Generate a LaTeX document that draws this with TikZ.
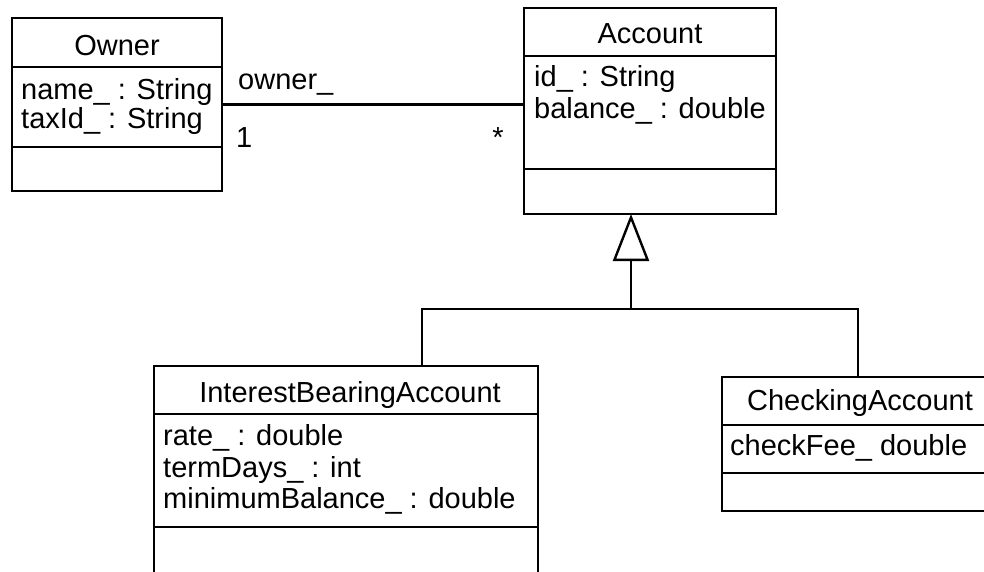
\documentclass[tikz,border=0pt]{standalone}
\usepackage{fontspec}
\setmainfont{Liberation Sans}
\usetikzlibrary{arrows.meta}
\begin{document}
\begin{tikzpicture}[x=1pt,y=-1pt,line width=2.4pt,
  classbox/.style={draw,rectangle,inner sep=0pt,outer sep=0pt,anchor=north west},
  attr/.style={inner sep=0pt,anchor=base west,font=\fontsize{29}{31}\selectfont},
  title/.style={inner sep=0pt,anchor=base,font=\fontsize{29}{31}\selectfont},
  gen/.style={-{Triangle[open,length=47pt,width=36pt]}}]
\clip (0,0) rectangle (984,571);
% class boxes
\node[classbox,minimum width=210pt,minimum height=173pt] (owner) at (12,18) {};
\node[classbox,minimum width=252pt,minimum height=206pt] (account) at (524,8) {};
\node[classbox,minimum width=384pt,minimum height=240pt] (interest) at (154,366) {};
\node[classbox,minimum width=272pt,minimum height=134pt] (checking) at (722,377) {};
% compartments
\draw (owner.west |- 0,67) -- (owner.east |- 0,67);
\draw (owner.west |- 0,147) -- (owner.east |- 0,147);
\draw (account.west |- 0,56) -- (account.east |- 0,56);
\draw (account.west |- 0,169) -- (account.east |- 0,169);
\draw (interest.west |- 0,414) -- (interest.east |- 0,414);
\draw (interest.west |- 0,527) -- (interest.east |- 0,527);
\draw (checking.west |- 0,425) -- (checking.east |- 0,425);
\draw (checking.west |- 0,473) -- (checking.east |- 0,473);
% titles
\node[title] (ownerT) at (117,55) {Owner};
\node[title] (accountT) at (650,43) {Account};
\node[title] (interestT) at (350,402) {InterestBearingAccount};
\node[title] (checkingT) at (860,410) {CheckingAccount};
% attributes
\node[attr] (oa1) at (20,99) {name\_ : String};
\node[attr] (oa2) at (20,128) {taxId\_ : String};
\node[attr] (aa1) at (533,86) {id\_ : String};
\node[attr] (aa2) at (533,118) {balance\_ : double};
\node[attr] (ia1) at (162,445) {rate\_ : double};
\node[attr] (ia2) at (162,477) {termDays\_ : int};
\node[attr] (ia3) at (162,508) {minimumBalance\_ : double};
\node[attr] (ca1) at (729,455) {checkFee\_ double};
% association
\draw (owner.east) -- (account.west |- owner.east);
\node[attr] (role) at (237,89) {owner\_};
\node[attr] (mult1) at (235,147) {1};
\node[title] (multS) at (498,147) {*};
% generalization
\coordinate (jn) at (631,309);
\coordinate (ibtop) at (422,366);
\draw (ibtop) |- (jn) -| (checking.north);
\draw[gen] (jn) -- (jn |- account.south);
\end{tikzpicture}
\end{document}
